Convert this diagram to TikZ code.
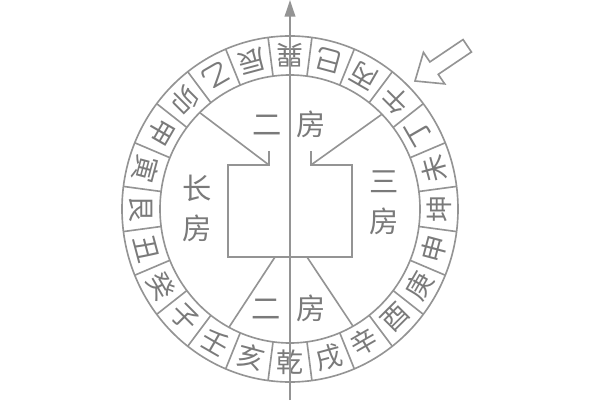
\documentclass[tikz,border=0pt]{standalone}
\usepackage{fontspec}
\newfontfamily\hanzi{Noto Sans CJK SC}
\usetikzlibrary{arrows.meta}
\definecolor{ink}{gray}{0.58}
\definecolor{glyph}{gray}{0.48}

\begin{document}
\begin{tikzpicture}[x=0.03cm,y=0.03cm,line width=1.4pt]
    \useasboundingbox (-290,-191) rectangle (310,209);

    % ring of the 24 mountains
    \draw[ink] (0,0) ellipse (168 and 173);
    \draw[ink] (0,0) ellipse (130 and 134);
    \foreach \a in {7.5,22.5,...,352.5}
        \draw[ink] (\a:130 and 134) -- (\a:168 and 173);
    \begin{scope}[every node/.style={text=glyph,font=\hanzi\fontsize{23}{23}\selectfont,inner sep=0pt}]
        \foreach \z [count=\i from 0] in {坤,未,丁,午,丙,巳,巽,辰,乙,卯,甲,寅,艮,丑,癸,子,壬,亥,乾,戌,辛,酉,庚,申}
            \node[rotate=15*\i+90] (m\i) at ({15*\i}:149 and 153.5) {\z};
    \end{scope}

    % house with its two notches
    \coordinate (gl) at (-21,44);
    \coordinate (gr) at (21,44);
    \coordinate (bl) at (-15,-48);
    \coordinate (br) at (17,-48);
    \draw[ink] (-21,58) -- (gl) -- (-62,44) -- (-62,-48) -- (62,-48) -- (62,44) -- (gr) -- (21,58);
    \coordinate (rl) at (134:130 and 134);
    \coordinate (rr) at (45:130 and 134);
    \coordinate (sl) at (242:130 and 134);
    \coordinate (sr) at (-61:130 and 134);
    \draw[ink] (rl) -- (gl);
    \draw[ink] (rr) -- (gr);
    \draw[ink] (sl) -- (bl);
    \draw[ink] (sr) -- (br);

    \begin{scope}[every node/.style={text=glyph,font=\hanzi\fontsize{25}{34}\selectfont,align=center}]
        \node (fang2) at (-1,85) {二\hspace{0.46cm}房};
        \node (fang1) at (-92.5,1) {长\\房};
        \node (fang3) at (94,6.5) {三\\房};
        \node (fang2b) at (-1.5,-99) {二\hspace{0.46cm}房};
    \end{scope}

    \draw[ink,-{Triangle[length=0.5cm,width=0.32cm]}] (0,-191) -- (0,209);
    \draw[ink,shift={(125,128)},rotate=34] (0,0) -- (23,19) -- (23,7.5) -- (63,7.5)
        -- (63,-7.5) -- (23,-7.5) -- (23,-19) -- cycle;
\end{tikzpicture}
\end{document}
